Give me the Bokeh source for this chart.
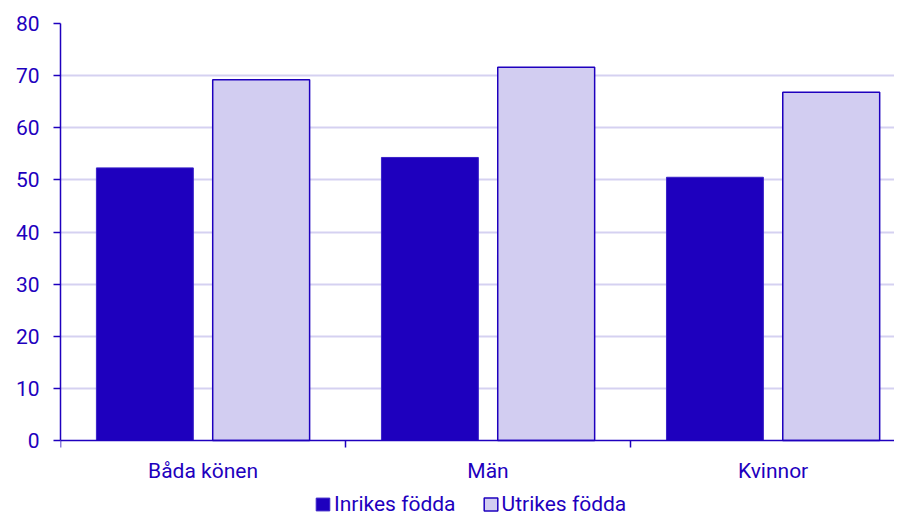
import numpy as np
from bokeh.plotting import figure
from bokeh.models import (ColumnDataSource, Range1d, FixedTicker, Legend, LegendItem)
from bokeh.embed import file_html
from bokeh.resources import INLINE

categories = ["Båda könen", "Män", "Kvinnor"]
series_names = ["Inrikes födda", "Utrikes födda"]
inrikes = [52.3, 54.3, 50.5]
utrikes = [69.2, 71.6, 66.8]
y_ticks = [0, 10, 20, 30, 40, 50, 60, 70, 80]

DARK = "#1e00be"
LIGHT = "#d2cdf1"
GRID = "#d5d1f1"
FONT = "Roboto"
FS = "21px"

W, H = 894, 516
TOP, LEFT = 23, 60
PX_PER_UNIT = 417 / 80.0          # vertical scale: 0 at y=440, 80 at y=23
y_lo = -(H - TOP - 417) / PX_PER_UNIT  # room below zero for axis labels + legend

centers = np.arange(len(categories)) + 0.5
off = 0.204
bw = 0.34

p = figure(width=W, height=H, output_backend="svg", toolbar_location=None,
           x_range=Range1d(0, 2.926), y_range=Range1d(y_lo, 80),
           min_border_left=LEFT, min_border_right=0, min_border_top=TOP,
           min_border_bottom=0)
p.outline_line_color = None
p.background_fill_color = "white"
p.border_fill_color = "white"

src1 = ColumnDataSource(dict(x=centers - off, top=inrikes))
src2 = ColumnDataSource(dict(x=centers + off, top=utrikes))
r1 = p.vbar(x="x", top="top", width=bw, bottom=0, source=src1,
            fill_color=DARK, line_color="#3a22c8", line_width=1)
r2 = p.vbar(x="x", top="top", width=bw, bottom=0, source=src2,
            fill_color=LIGHT, line_color=DARK, line_width=1.5)

# grid
p.xgrid.visible = False
p.ygrid.ticker = FixedTicker(ticks=y_ticks[1:])
p.ygrid.grid_line_color = GRID
p.ygrid.grid_line_width = 2

# y axis
ya = p.yaxis[0]
ya.ticker = FixedTicker(ticks=y_ticks)
ya.bounds = (0, 80)
ya.axis_line_color = DARK
ya.axis_line_width = 1.5
ya.major_tick_line_color = DARK
ya.major_tick_line_width = 1.5
ya.major_tick_out = 7
ya.major_tick_in = 0
ya.minor_tick_line_color = None
ya.major_label_text_font = FONT
ya.major_label_text_font_size = FS
ya.major_label_text_color = DARK
ya.major_label_standoff = 14

# x axis (sits at y = 0)
xa = p.xaxis[0]
xa.fixed_location = 0
xa.ticker = FixedTicker(ticks=list(centers), minor_ticks=list(range(len(categories) + 1)))
xa.major_label_overrides = {float(c): lab for c, lab in zip(centers, categories)}
xa.axis_line_color = DARK
xa.axis_line_width = 1.5
xa.major_tick_line_color = None
xa.major_tick_out = 0
xa.major_tick_in = 0
xa.minor_tick_line_color = DARK
xa.minor_tick_line_width = 1.5
xa.minor_tick_out = 7
xa.minor_tick_in = 0
xa.major_label_text_font = FONT
xa.major_label_text_font_size = FS
xa.major_label_text_color = DARK
xa.major_label_standoff = 11

legend = Legend(items=[LegendItem(label=series_names[0], renderers=[r1]),
                       LegendItem(label=series_names[1], renderers=[r2])],
                location=(254, 0), orientation="horizontal",
                label_text_font=FONT, label_text_font_size=FS,
                label_text_color=DARK, glyph_width=17, glyph_height=16,
                label_standoff=3, spacing=26, padding=0, margin=0,
                border_line_color=None, background_fill_alpha=0,
                label_height=20)
p.add_layout(legend, "center")

open("out.html", "w").write(file_html(p, INLINE))
